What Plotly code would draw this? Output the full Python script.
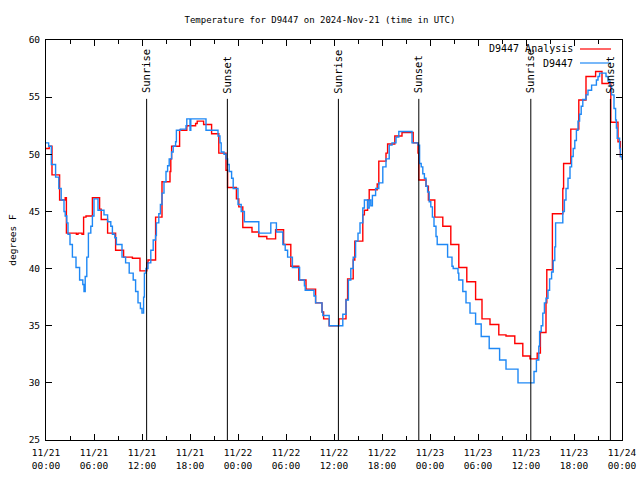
import pandas as pd
import plotly.graph_objects as go

# ---- data (hours after 2024-11-21 00:00 UTC, degrees F) ----
analysis_hours = [0.0, 0.4, 0.75, 1.7, 2.4, 2.55, 3.8, 4.0, 4.5, 4.7, 5.0, 5.8, 6.7, 6.9, 7.7, 8.7, 9.7,
                  10.8, 11.75, 12.6, 12.75, 13.7, 14.5, 15.5, 15.6, 15.7, 16.7, 17.6, 18.7, 18.9, 19.7,
                  20.7, 21.6, 22.5, 22.7, 23.8, 24.1, 24.6, 25.75, 26.6, 27.6, 28.7, 29.7, 30.6, 31.6,
                  32.5, 33.7, 34.5, 34.7, 35.4, 36.6, 37.5, 37.7, 38.4, 38.6, 39.6, 39.8, 40.2, 40.4,
                  41.4, 41.6, 42.5, 42.7, 43.6, 44.5, 45.9, 46.5, 46.6, 47.5, 47.8, 48.6, 49.6, 50.6,
                  51.6, 52.6, 53.7, 54.5, 55.5, 56.6, 57.5, 58.6, 59.6, 60.5, 61.4, 61.8, 62.5, 62.6,
                  63.3, 64.6, 64.7, 65.6, 66.6, 67.5, 68.7, 69.5, 70.6, 71.5, 71.8, 72.0]
analysis_temps = [50.5, 50.7, 48.2, 46.0, 46.2, 43.1, 43.0, 43.1, 43.0, 44.5, 44.6, 46.2, 45.2, 44.3, 43.1,
                  41.6, 41.0, 40.9, 39.8, 40.5, 40.75, 44.5, 47.6, 48.5, 49.6, 50.7, 52.1, 52.5, 52.7,
                  52.9, 52.6, 51.8, 50.1, 48.6, 47.1, 46.1, 45.4, 43.6, 43.2, 42.8, 42.6, 43.4, 42.1,
                  40.2, 39.0, 38.2, 37.0, 36.2, 35.6, 35.0, 35.6, 37.3, 39.1, 40.75, 42.4, 44.7, 45.1,
                  46.0, 46.9, 47.4, 49.4, 50.1, 50.9, 51.6, 51.9, 51.0, 50.1, 47.75, 47.2, 46.0, 44.5,
                  43.7, 42.1, 40.1, 38.85, 37.3, 35.6, 35.1, 34.2, 34.1, 33.45, 32.35, 32.1, 32.6, 34.4,
                  37.0, 39.9, 44.8, 47.0, 49.2, 52.2, 54.75, 56.8, 57.25, 56.2, 52.8, 51.1, 49.8, 49.8]

obs_hours = [0.0, 0.33, 0.67, 1.2, 1.6, 1.9, 2.25, 2.4, 2.6, 2.75, 3.0, 3.3, 3.75, 4.2, 4.6, 4.75, 4.9,
             5.1, 5.3, 5.6, 5.8, 6.0, 6.5, 7.25, 7.7, 8.1, 8.3, 8.6, 8.8, 9.5, 9.95, 10.4, 10.9, 11.2,
             11.5, 11.8, 12.0, 12.2, 12.3, 12.5, 12.75, 13.1, 13.4, 13.7, 13.8, 14.1, 14.3, 14.5, 14.75,
             15.0, 15.2, 15.4, 15.7, 15.9, 16.2, 16.3, 16.8, 17.5, 17.6, 18.0, 18.1, 20.0, 21.5, 21.75,
             21.9, 22.25, 22.5, 22.7, 22.9, 23.2, 23.4, 24.0, 24.4, 24.8, 26.6, 28.1, 28.8, 29.6, 29.9,
             30.2, 30.8, 31.7, 32.3, 32.4, 33.5, 33.7, 34.5, 34.6, 35.4, 37.1, 37.5, 37.8, 38.1, 38.4,
             38.7, 39.0, 39.25, 39.6, 39.8, 40.2, 40.4, 40.6, 40.8, 41.2, 41.6, 42.1, 42.5, 42.9, 43.25,
             43.75, 44.1, 45.75, 46.5, 46.7, 46.9, 47.1, 47.3, 47.5, 47.7, 47.9, 48.1, 48.3, 48.5, 48.75,
             48.9, 50.2, 50.75, 50.9, 51.5, 51.6, 52.1, 52.5, 53.0, 53.7, 54.4, 55.4, 56.7, 57.5, 59.0,
             61.0, 61.3, 61.6, 61.7, 61.9, 62.1, 62.3, 62.5, 62.75, 62.95, 63.2, 63.4, 63.6, 63.7, 64.6,
             64.8, 65.0, 65.25, 65.5, 65.7, 65.9, 66.1, 66.3, 66.5, 66.7, 66.9, 67.1, 67.5, 67.75, 68.2,
             68.8, 69.0, 69.2, 70.0, 70.25, 70.5, 70.7, 71.0, 71.2, 71.3, 71.4, 71.7, 71.8, 72.0]
obs_temps = [51.0, 50.7, 49.1, 48.0, 47.0, 46.0, 45.0, 44.6, 44.0, 43.0, 42.1, 41.0, 40.1, 39.0, 38.6,
             38.0, 39.3, 41.0, 43.1, 43.7, 44.6, 46.1, 45.1, 44.7, 44.1, 43.7, 43.0, 42.7, 42.1, 41.0,
             40.5, 39.6, 39.0, 38.0, 37.0, 36.5, 36.1, 37.5, 39.6, 40.0, 40.5, 41.6, 42.5, 42.9, 44.0,
             44.8, 45.6, 46.6, 47.6, 48.5, 49.0, 49.6, 50.2, 50.7, 51.1, 52.1, 52.2, 52.5, 53.1, 52.1,
             53.1, 52.1, 51.6, 51.0, 50.2, 50.0, 49.6, 49.1, 48.5, 47.9, 47.0, 45.6, 45.0, 44.1, 43.1,
             44.0, 43.2, 42.1, 41.6, 41.0, 40.1, 39.0, 38.5, 38.1, 37.6, 37.0, 36.2, 35.9, 35.0, 36.0,
             37.25, 39.0, 40.0, 41.0, 42.4, 43.1, 44.0, 45.3, 46.0, 45.3, 46.0, 45.5, 46.4, 47.0, 47.5,
             48.9, 49.6, 50.8, 51.0, 51.5, 52.0, 51.0, 50.8, 49.2, 48.9, 48.3, 47.9, 47.2, 46.7, 45.85,
             45.4, 44.5, 43.7, 42.8, 42.1, 41.0, 40.2, 40.0, 39.6, 39.0, 38.0, 37.0, 36.1, 35.15, 34.05,
             33.0, 32.0, 31.2, 30.0, 31.0, 32.0, 33.2, 34.5, 35.0, 36.1, 37.0, 37.4, 38.1, 39.1, 39.7,
             40.7, 41.9, 44.0, 45.0, 46.0, 47.0, 47.9, 48.9, 49.8, 50.5, 51.2, 52.1, 52.9, 53.5, 54.2,
             54.8, 55.2, 55.6, 56.05, 56.5, 56.8, 57.1, 56.8, 56.4, 55.95, 55.2, 54.0, 53.0, 52.3, 51.4,
             50.5, 49.8, 49.5]

sun_hours = [12.58, 22.67, 36.55, 46.6, 60.6, 70.55]
sun_labels = ["Sunrise", "Sunset", "Sunrise", "Sunset", "Sunrise", "Sunset"]

tick_hours = [0, 6, 12, 18, 24, 30, 36, 42, 48, 54, 60, 66, 72]
tick_labels = ["11/21<br>00:00", "11/21<br>06:00", "11/21<br>12:00", "11/21<br>18:00",
               "11/22<br>00:00", "11/22<br>06:00", "11/22<br>12:00", "11/22<br>18:00",
               "11/23<br>00:00", "11/23<br>06:00", "11/23<br>12:00", "11/23<br>18:00",
               "11/24<br>00:00"]
y_ticks = [25, 30, 35, 40, 45, 50, 55, 60]

base = pd.Timestamp("2024-11-21 00:00")
def to_t(hs):
    return [base + pd.Timedelta(hours=h) for h in hs]

FONT = "DejaVu Sans Mono"
RED = "#ff0000"
BLUE = "#1e88f5"

fig = go.Figure()
fig.add_trace(go.Scatter(x=to_t(analysis_hours), y=analysis_temps, mode="lines",
                         line=dict(color=RED, width=1.4, shape="hv"), name="D9447 Analysis",
                         showlegend=False))
fig.add_trace(go.Scatter(x=to_t(obs_hours), y=obs_temps, mode="lines",
                         line=dict(color=BLUE, width=1.4, shape="hv"), name="D9447",
                         showlegend=False))

for h, lab in zip(sun_hours, sun_labels):
    t = base + pd.Timedelta(hours=h)
    fig.add_shape(type="line", x0=t, x1=t, y0=25, y1=54.85, xref="x", yref="y",
                  line=dict(color="black", width=1))
    fig.add_annotation(x=t, y=55.15, xref="x", yref="y", text=lab, textangle=-90,
                       showarrow=False, xanchor="center", yanchor="bottom",
                       font=dict(family=FONT, size=10.5, color="black"))

# legend (gnuplot style: text then sample)
for i, (lab, col) in enumerate([("D9447 Analysis", RED), ("D9447", BLUE)]):
    ypix = 49 + i * 14
    yp = 1 - (ypix - 40) / 400
    fig.add_annotation(x=(575 - 46) / 576, y=yp, xref="paper", yref="paper", text=lab,
                       showarrow=False, xanchor="right", yanchor="middle",
                       font=dict(family=FONT, size=10, color="black"))
    fig.add_shape(type="line", x0=(580 - 46) / 576, x1=(611 - 46) / 576, y0=yp, y1=yp,
                  xref="paper", yref="paper", line=dict(color=col, width=1.2))

fig.update_layout(
    width=640, height=480,
    margin=dict(l=46, r=18, t=40, b=40, autoexpand=False),
    paper_bgcolor="white", plot_bgcolor="white",
    title=dict(text="Temperature for D9447 on 2024-Nov-21 (time in UTC)", x=0.5,
               xanchor="center", y=1 - 20 / 480, yanchor="middle", automargin=False,
               font=dict(family=FONT, size=9, color="black")),
    font=dict(family=FONT, size=9.5, color="black"),
)
fig.update_xaxes(range=[base, base + pd.Timedelta(hours=72)], tickvals=to_t(tick_hours),
                 ticktext=tick_labels, ticks="inside", ticklen=6, tickcolor="black",
                 showline=True, linecolor="black", linewidth=1, mirror="ticks", showgrid=False,
                 zeroline=False, automargin=False, ticklabelstandoff=4,
                 tickfont=dict(family=FONT, size=9.5),
                 minor=dict(dtick=3 * 3600 * 1000, tick0=base, ticks="inside", ticklen=4,
                            tickcolor="black", showgrid=False))
fig.update_yaxes(range=[25, 60], tickvals=y_ticks, ticks="inside", ticklen=6, tickcolor="black",
                 showline=True, linecolor="black", linewidth=1, mirror="ticks", showgrid=False,
                 zeroline=False, automargin=False, ticklabelstandoff=3,
                 tickfont=dict(family=FONT, size=9.5),
                 title=dict(text="degrees F", font=dict(family=FONT, size=9.5), standoff=10))

# remove the page's default 8px body margin so the 640x480 figure fills the window exactly
fig.write_html("out.html", config={"displayModeBar": False},
               post_script="document.body.style.margin='0';document.body.style.overflow='hidden';")
